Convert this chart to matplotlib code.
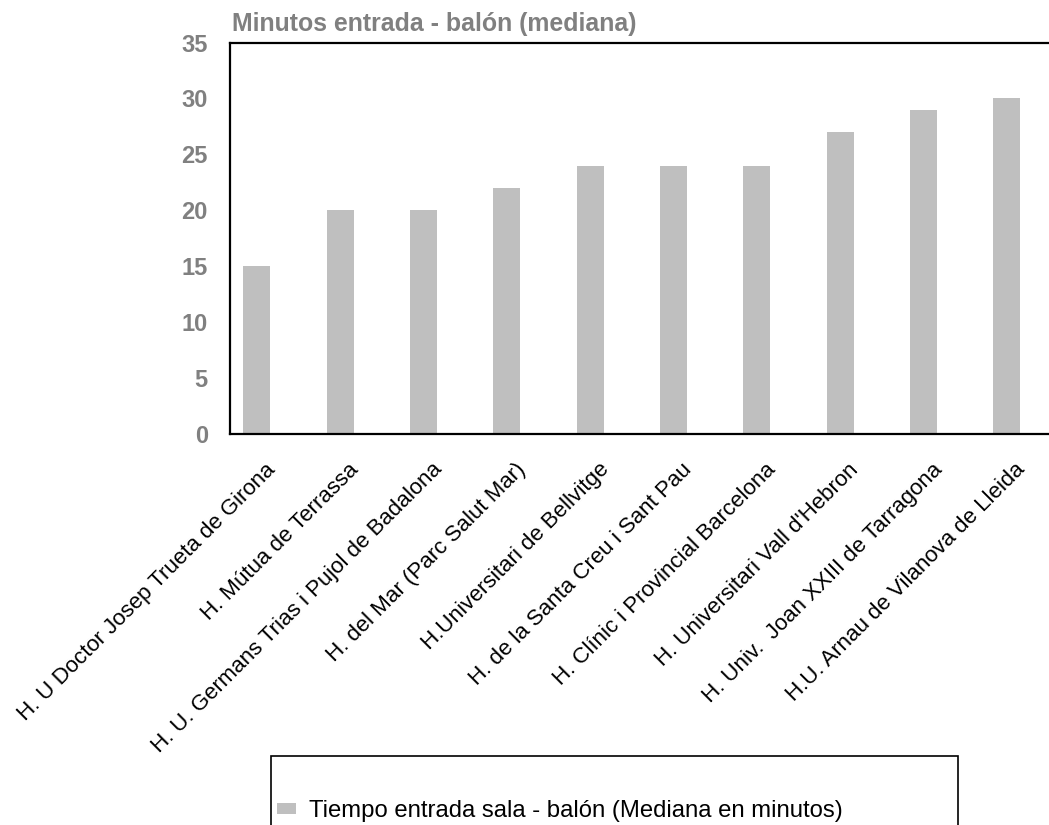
import matplotlib
matplotlib.use("Agg")
import matplotlib.pyplot as plt
from matplotlib.transforms import ScaledTranslation
from matplotlib.patches import Rectangle

plt.rcParams['font.family'] = ['Liberation Sans', 'DejaVu Sans']

hospitals = [
    "H. U Doctor Josep Trueta de Girona",
    "H. Mútua de Terrassa",
    "H. U. Germans Trias i Pujol de Badalona",
    "H. del Mar (Parc Salut Mar)",
    "H.Universitari de Bellvitge",
    "H. de la Santa Creu i Sant Pau",
    "H. Clínic i Provincial Barcelona",
    "H. Universitari Vall d'Hebron",
    "H. Univ.  Joan XXIII de Tarragona",
    "H.U. Arnau de Vilanova de Lleida",
]
minutes = [15, 20, 20, 22, 24, 24, 24, 27, 29, 30]
yticks = [0, 5, 10, 15, 20, 25, 30, 35]
series_name = "Tiempo entrada sala - balón (Mediana en minutos)"
title = "Minutos entrada - balón (mediana)"

W, H = 1049, 825
fig = plt.figure(figsize=(W / 100, H / 100), dpi=100)
ax = fig.add_axes([230 / W, 1 - 434 / H, 1 - 230 / W, (434 - 42.5) / H])

x = list(range(len(hospitals)))
bars = ax.bar(x, minutes, width=0.324, color="#BFBFBF", label=series_name, zorder=2)

ax.set_xlim(-0.324, -0.324 + 819 / 83.3)
ax.set_ylim(0, 35)
ax.set_yticks(yticks)
ax.set_yticklabels([str(v) for v in yticks], fontsize=17, fontweight="bold", color="#808080")
ax.tick_params(axis="y", length=0, pad=16)
ax.set_xticks(x)
ax.set_xticklabels(hospitals, rotation=45, ha="right", fontsize=16, color="black")
ax.tick_params(axis="x", length=0, pad=18)
offset = ScaledTranslation(23 / 100, 0, fig.dpi_scale_trans)
for lab in ax.get_xticklabels():
    lab.set_transform(lab.get_transform() + offset)

for s in ["left", "bottom", "top"]:
    ax.spines[s].set_color("black")
    ax.spines[s].set_linewidth(1.6)
ax.spines["right"].set_visible(False)

fig.text(232 / W, 1 - 30.5 / H, title, fontsize=17.9, fontweight="bold", color="#808080",
         ha="left", va="baseline")

# legend frame
fig.patches.append(Rectangle((271 / W, -0.05), (958 - 271) / W, 0.05 + 1 - 756 / H,
                             transform=fig.transFigure, fill=False, edgecolor="black",
                             linewidth=1.2))
fig.legend(handles=[bars], labels=[series_name], loc="center left",
           bbox_to_anchor=(275 / W, 1 - 811 / H), frameon=False, fontsize=17.2,
           handlelength=0.78, handleheight=0.3, handletextpad=0.55, borderaxespad=0,
           borderpad=0.1)

fig.savefig("out.png", dpi=100)
